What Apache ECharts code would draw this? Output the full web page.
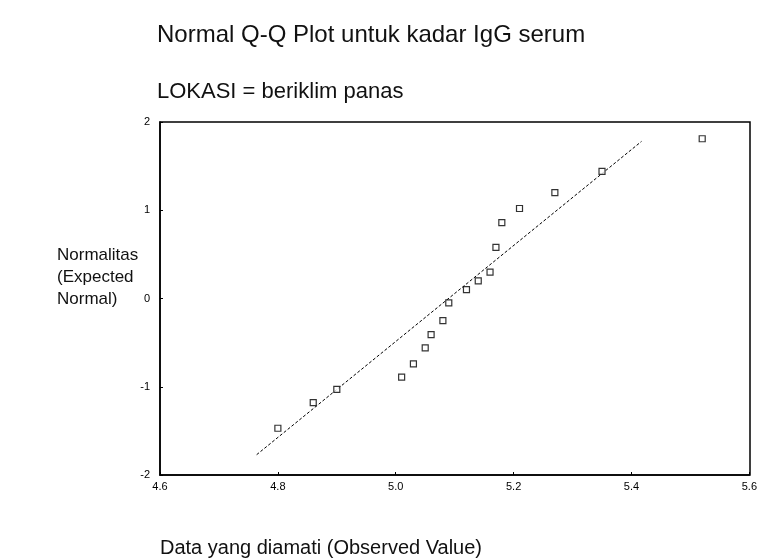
<!DOCTYPE html>
<html>
<head>
<meta charset="utf-8">
<script src="https://cdn.jsdelivr.net/npm/echarts@6/dist/echarts.min.js"></script>
<style>
  html, body { margin: 0; padding: 0; background: #fff; }
  #chart { width: 760px; height: 560px; }
</style>
</head>
<body>
<div id="chart"></div>
<script>
// nilai yang diamati (sumbu x) dan nilai normal harapan (sumbu y)
const observed = [5.52, 5.35, 5.27, 5.21, 5.18, 5.17, 5.16, 5.14, 5.12, 5.09, 5.08, 5.06, 5.05, 5.03, 5.01, 4.90, 4.86, 4.80];
const expected = [1.81, 1.44, 1.20, 1.02, 0.86, 0.58, 0.30, 0.20, 0.10, -0.05, -0.25, -0.41, -0.56, -0.74, -0.89, -1.03, -1.18, -1.47];

// garis referensi normal
const lineX = [4.764, 5.417];
const lineY = [-1.77, 1.78];

const xTicks = ['4.6', '4.8', '5.0', '5.2', '5.4', '5.6'];
const yTicks = ['-2', '-1', '0', '1', '2'];

const chart = echarts.init(document.getElementById('chart'));
const font = 'Liberation Sans, Arial, sans-serif';

const option = {
  backgroundColor: '#fff',
  animation: false,
  title: [
    {
      text: 'Normal Q-Q Plot untuk kadar IgG serum',
      left: 152, top: 18,
      textStyle: { fontFamily: font, fontSize: 24, fontWeight: 'normal', color: '#111' }
    },
    {
      text: 'LOKASI = beriklim panas',
      left: 152, top: 76,
      textStyle: { fontFamily: font, fontSize: 22, fontWeight: 'normal', color: '#111' }
    },
    {
      text: 'Normalitas\n(Expected\nNormal)',
      left: 52, top: 239,
      textStyle: { fontFamily: font, fontSize: 17, fontWeight: 'normal', color: '#111', lineHeight: 22 }
    },
    {
      text: 'Data yang diamati (Observed Value)',
      left: 155, top: 533,
      textStyle: { fontFamily: font, fontSize: 20, fontWeight: 'normal', color: '#111' }
    }
  ],
  grid: { left: 160, right: 10, top: 122, bottom: 85 },
  xAxis: {
    type: 'value',
    min: 4.6, max: 5.6, interval: 0.2,
    axisLine: { onZero: false, lineStyle: { color: '#000', width: 1.5 } },
    axisTick: { inside: true, length: 3, lineStyle: { color: '#000' } },
    splitLine: { show: false },
    axisLabel: {
      fontFamily: font, fontSize: 11, color: '#000', margin: 6,
      formatter: (v) => xTicks[Math.round((v - 4.6) / 0.2)]
    }
  },
  yAxis: {
    type: 'value',
    min: -2, max: 2, interval: 1,
    axisLine: { lineStyle: { color: '#000', width: 1.5 } },
    axisTick: { inside: true, length: 3, lineStyle: { color: '#000' } },
    splitLine: { show: false },
    axisLabel: {
      fontFamily: font, fontSize: 11, color: '#000', margin: 10,
      formatter: (v) => yTicks[Math.round(v + 2)]
    }
  },
  series: [
    {
      type: 'line',
      data: lineX.map((x, i) => [x, lineY[i]]),
      symbol: 'none',
      lineStyle: { color: '#000', width: 1, type: [3, 2] },
      z: 1
    },
    {
      type: 'scatter',
      data: observed.map((x, i) => [x, expected[i]]),
      symbol: 'rect',
      symbolSize: 6,
      itemStyle: { color: '#fff', borderColor: '#000', borderWidth: 1.2 },
      z: 2
    }
  ]
};

chart.setOption(option);
// grid sisi atas dan kanan
chart.setOption({
  graphic: [{
    type: 'rect',
    shape: { x: 160, y: 122, width: 590, height: 353 },
    style: { fill: 'none', stroke: '#000', lineWidth: 1.5 },
    silent: true
  }]
});
</script>
</body>
</html>
